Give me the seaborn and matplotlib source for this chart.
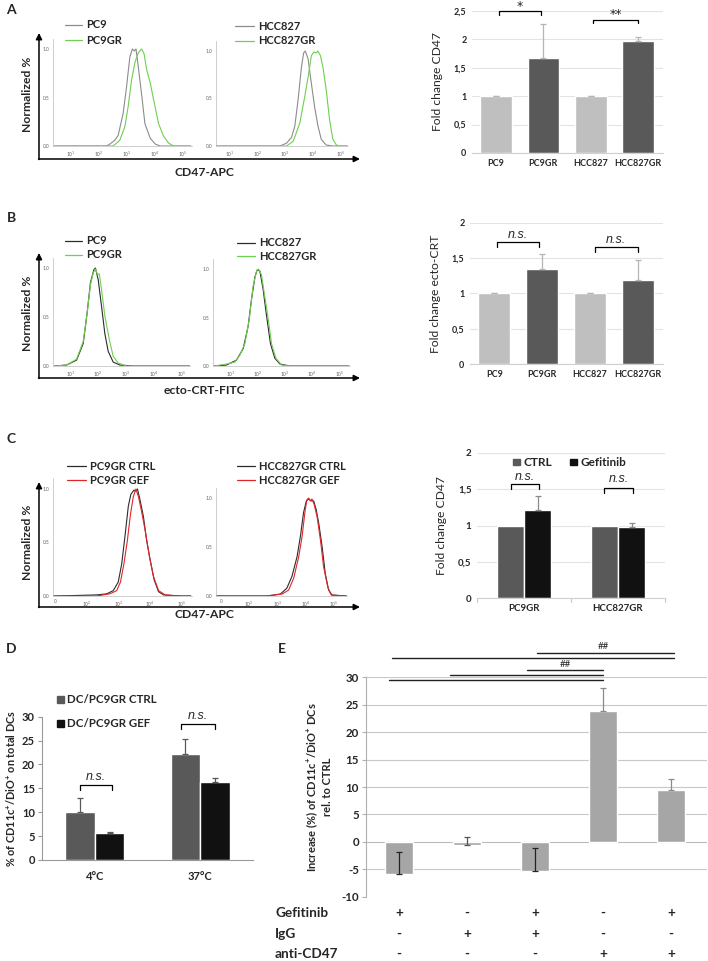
import numpy as np
import pandas as pd
import matplotlib
matplotlib.use("Agg")
import matplotlib.pyplot as plt
import seaborn as sns

sns.set_theme(style="white")
plt.rcParams['font.family'] = ['Lato', 'DejaVu Sans']
plt.rcParams['mathtext.default'] = 'regular'

W, H = 708, 961

# ---------------- DATA ----------------
# Panel A histograms (x = log10 intensity, y = normalized count)
a1_pc9_x = [0.4, 2.28, 2.40, 2.58, 2.70, 2.88, 3.00, 3.12, 3.21, 3.28, 3.34, 3.42, 3.55, 3.66, 3.85, 4.03, 4.21, 5.3]
a1_pc9_y = [0, 0, 0.02, 0.06, 0.11, 0.34, 0.61, 0.92, 1.0, 0.98, 1.0, 0.82, 0.51, 0.23, 0.08, 0.02, 0, 0]
a1_gr_x = [0.4, 2.52, 2.76, 2.94, 3.06, 3.18, 3.30, 3.42, 3.54, 3.63, 3.72, 3.85, 3.97, 4.15, 4.33, 4.51, 4.69, 5.3]
a1_gr_y = [0, 0, 0.06, 0.2, 0.41, 0.68, 0.86, 0.96, 1.0, 0.95, 0.79, 0.65, 0.48, 0.23, 0.1, 0.03, 0, 0]
a2_hcc_x = [0.5, 2.81, 3.05, 3.23, 3.35, 3.47, 3.59, 3.67, 3.73, 3.83, 3.95, 4.07, 4.19, 4.31, 4.49, 4.73, 5.25]
a2_hcc_y = [0, 0, 0.03, 0.09, 0.21, 0.49, 0.83, 0.98, 1.0, 0.92, 0.66, 0.41, 0.21, 0.07, 0.01, 0, 0]
a2_gr_x = [0.5, 3.05, 3.29, 3.53, 3.71, 3.83, 3.95, 4.04, 4.13, 4.19, 4.28, 4.37, 4.49, 4.61, 4.73, 4.86, 4.98, 5.25]
a2_gr_y = [0, 0, 0.05, 0.24, 0.52, 0.72, 0.95, 0.99, 0.98, 1.0, 0.95, 0.83, 0.59, 0.28, 0.07, 0.01, 0, 0]

# Panel B histograms
b1_pc9_x = [0.43, 0.86, 1.22, 1.46, 1.60, 1.72, 1.84, 1.90, 2.00, 2.12, 2.24, 2.36, 2.54, 2.78, 3.27, 5.3]
b1_pc9_y = [0, 0.01, 0.06, 0.23, 0.54, 0.85, 0.98, 1.0, 0.88, 0.61, 0.33, 0.15, 0.04, 0.01, 0, 0]
b1_gr_x = [0.43, 0.86, 1.22, 1.46, 1.60, 1.72, 1.82, 1.90, 1.98, 2.04, 2.12, 2.24, 2.40, 2.54, 2.72, 3.02, 5.3]
b1_gr_y = [0, 0.01, 0.07, 0.25, 0.54, 0.83, 0.95, 0.99, 0.93, 0.94, 0.78, 0.51, 0.27, 0.10, 0.03, 0, 0]
b2_hcc_x = [0.40, 0.85, 1.22, 1.47, 1.65, 1.77, 1.90, 1.98, 2.08, 2.20, 2.33, 2.47, 2.63, 2.82, 3.18, 5.35]
b2_hcc_y = [0, 0.01, 0.06, 0.18, 0.41, 0.68, 0.92, 0.99, 0.98, 0.79, 0.51, 0.23, 0.08, 0.02, 0, 0]
b2_gr_x = [0.40, 0.85, 1.16, 1.34, 1.53, 1.69, 1.83, 1.96, 2.03, 2.14, 2.26, 2.39, 2.51, 2.67, 2.88, 3.18, 5.35]
b2_gr_y = [0, 0.02, 0.04, 0.11, 0.23, 0.48, 0.82, 0.98, 1.0, 0.94, 0.72, 0.48, 0.23, 0.08, 0.01, 0, 0]

# Panel C histograms (biexponential display units: 1 = "0", 2 = 10^2, ...)
c1_ctrl_x = [0.95, 1.03, 2.31, 2.63, 2.84, 3.00, 3.11, 3.21, 3.32, 3.40, 3.50, 3.55, 3.61, 3.69, 3.80, 3.90, 4.01, 4.14, 4.28, 4.44, 4.97, 5.3]
c1_ctrl_y = [0, 0, 0.01, 0.02, 0.05, 0.13, 0.30, 0.55, 0.84, 0.95, 0.99, 0.98, 1.0, 0.90, 0.74, 0.52, 0.34, 0.15, 0.04, 0.01, 0, 0]
c1_gef_x = [0.95, 2.31, 2.73, 2.95, 3.07, 3.18, 3.29, 3.39, 3.48, 3.56, 3.64, 3.74, 3.85, 3.99, 4.12, 4.28, 4.49, 4.97, 5.3]
c1_gef_y = [0, 0, 0.02, 0.05, 0.13, 0.30, 0.52, 0.77, 0.93, 1.0, 0.93, 0.79, 0.62, 0.37, 0.18, 0.05, 0.01, 0, 0]
c2_ctrl_x = [0.85, 2.63, 3.11, 3.34, 3.52, 3.70, 3.82, 3.93, 4.03, 4.11, 4.20, 4.29, 4.38, 4.47, 4.59, 4.70, 4.82, 4.94, 5.45]
c2_ctrl_y = [0, 0, 0.02, 0.08, 0.20, 0.40, 0.61, 0.85, 0.97, 0.99, 0.97, 0.97, 0.88, 0.74, 0.50, 0.23, 0.06, 0.01, 0]
c2_gef_x = [0.85, 2.63, 3.17, 3.40, 3.58, 3.76, 3.88, 3.99, 4.05, 4.11, 4.17, 4.23, 4.31, 4.41, 4.53, 4.64, 4.79, 4.91, 5.45]
c2_gef_y = [0, 0, 0.02, 0.06, 0.18, 0.40, 0.61, 0.88, 0.98, 1.0, 0.97, 0.99, 0.93, 0.81, 0.57, 0.30, 0.09, 0.01, 0]

# Bar panels
ab_cats = ['PC9', 'PC9GR', 'HCC827', 'HCC827GR']
a_vals = [1.0, 1.68, 1.0, 1.97]
a_errs = [0.0, 0.59, 0.0, 0.08]
b_vals = [1.0, 1.35, 1.0, 1.19]
b_errs = [0.0, 0.20, 0.0, 0.28]

c_cells = ['PC9GR', 'HCC827GR']
c_ctrl = [1.0, 1.0]
c_gef = [1.21, 0.98]
c_gef_err = [0.19, 0.05]

d_temps = ['4°C', '37°C']
d_ctrl = [10.0, 22.1]
d_ctrl_err = [3.0, 3.3]
d_gef = [5.6, 16.4]
d_gef_err = [0.3, 0.8]

e_groups = ['G1', 'G2', 'G3', 'G4', 'G5']
e_vals = [-5.8, -0.5, -5.4, 23.8, 9.4]
e_errs = [3.9, 1.3, 4.3, 4.3, 2.0]
e_rows = ['Gefitinib', 'IgG', 'anti-CD47']
e_gef = ['+', '-', '+', '-', '+']
e_igg = ['-', '+', '+', '-', '-']
e_acd47 = ['-', '-', '-', '+', '+']

# ---------------- FIGURE ----------------
fig = plt.figure(figsize=(W / 100, H / 100), dpi=100)
ov = fig.add_axes([0, 0, 1, 1], zorder=-5)
ov.set_xlim(0, W)
ov.set_ylim(H, 0)
ov.axis('off')


def add_ax(l, t, r, b):
    return fig.add_axes([l / W, 1 - b / H, (r - l) / W, (b - t) / H])


GRAY = '#8c8c8c'
GREEN = '#6fcf4f'
DARK = '#2b2b2b'
RED = '#e0262a'


def histo(l, r, y0, y1, xlim, curves, ticks, ticklabels):
    top = y0 - 1.1 * (y0 - y1)
    ax = add_ax(l, top, r, y0)
    for xs, ys, col in curves:
        sns.lineplot(x=xs, y=ys, color=col, lw=0.8, ax=ax, sort=False, estimator=None)
    ax.set_xlim(*xlim)
    ax.set_ylim(0, 1.1)
    ax.set_xticks(ticks)
    ax.set_xticklabels(ticklabels)
    ax.set_yticks([0, 0.5, 1.0])
    ax.set_yticklabels(['0.0', '0.5', '1.0'])
    ax.tick_params(labelsize=3.5, colors='#666666', length=1.5, width=0.4, pad=1)
    for s in ['top', 'right']:
        ax.spines[s].set_visible(False)
    for s in ['left', 'bottom']:
        ax.spines[s].set_color('#bbbbbb')
        ax.spines[s].set_linewidth(0.5)
    ax.set_xlabel('')
    ax.set_ylabel('')
    ax.patch.set_alpha(0)
    return ax


def big_axes(ytop, ybot, xlabel, xl_y):
    ov.annotate('', xy=(39, ytop), xytext=(39, ybot + 0.5),
                arrowprops=dict(arrowstyle='-|>', lw=1.1, color='black', mutation_scale=9, shrinkA=0, shrinkB=0))
    ov.annotate('', xy=(360, ybot), xytext=(38.5, ybot),
                arrowprops=dict(arrowstyle='-|>', lw=1.1, color='black', mutation_scale=9, shrinkA=0, shrinkB=0))
    ov.text(28, (ytop + ybot) / 2 - 2, 'Normalized %', rotation=90, ha='center', va='center',
            fontsize=8.7, fontweight='bold')
    ov.text(204, xl_y, xlabel, ha='center', va='center', fontsize=8.7, fontweight='bold')


def hist_legend(x0, x1, ys, names, cols):
    for y, n, c in zip(ys, names, cols):
        ov.plot([x0, x1], [y, y], color=c, lw=0.9)
        ov.text(x1 + 4, y, n, ha='left', va='center', fontsize=8, fontweight='bold')


logt = [1, 2, 3, 4, 5]
logl = [r'$10^{%d}$' % t for t in logt]

# Panel A histograms
histo(53, 192, 146, 49, (0.36, 5.35),
      [(a1_pc9_x, a1_pc9_y, GRAY), (a1_gr_x, a1_gr_y, GREEN)], logt, logl)
histo(216, 348, 146, 51, (0.49, 5.28),
      [(a2_hcc_x, a2_hcc_y, GRAY), (a2_gr_x, a2_gr_y, GREEN)], logt, logl)
big_axes(33, 159, 'CD47-APC', 172)
hist_legend(65, 82, [25, 40], ['PC9', 'PC9GR'], [GRAY, GREEN])
hist_legend(235, 254, [26, 40.5], ['HCC827', 'HCC827GR'], [GRAY, GREEN])

# Panel B histograms
histo(53, 190, 366, 268, (0.37, 5.31),
      [(b1_pc9_x, b1_pc9_y, DARK), (b1_gr_x, b1_gr_y, GREEN)], logt, logl)
histo(213, 350, 366, 269, (0.36, 5.39),
      [(b2_hcc_x, b2_hcc_y, DARK), (b2_gr_x, b2_gr_y, GREEN)], logt, logl)
big_axes(253, 378, 'ecto-CRT-FITC', 391)
hist_legend(65, 82, [241, 255], ['PC9', 'PC9GR'], [DARK, GREEN])
hist_legend(237, 255, [243, 256], ['HCC827', 'HCC827GR'], [DARK, GREEN])

# Panel C histograms
bit = [1, 2, 3, 4, 5]
bil = ['0', r'$10^{2}$', r'$10^{3}$', r'$10^{4}$', r'$10^{5}$']
histo(53, 192, 596, 489, (0.93, 5.34),
      [(c1_ctrl_x, c1_ctrl_y, DARK), (c1_gef_x, c1_gef_y, RED)], bit, bil)
histo(216, 347, 596, 498, (0.83, 5.47),
      [(c2_ctrl_x, c2_ctrl_y, DARK), (c2_gef_x, c2_gef_y, RED)], bit, bil)
big_axes(482, 607, 'CD47-APC', 615)
hist_legend(67, 86, [466, 480], ['PC9GR CTRL', 'PC9GR GEF'], [DARK, RED])
hist_legend(237, 255, [466, 480], ['HCC827GR CTRL', 'HCC827GR GEF'], [DARK, RED])

# panel letters
for lab, x, y in [('A', 11, 10), ('B', 11, 218), ('C', 11, 439), ('D', 11, 649), ('E', 282, 649)]:
    ov.text(x, y, lab, ha='center', va='center', fontsize=10, fontweight='bold')

LIGHT = '#bfbfbf'
MID = '#595959'


def bracket(ax, x1, x2, y, h, txt, ty, italic=False, fs=9):
    ax.plot([x1, x1, x2, x2], [y - h, y, y, y - h], color='black', lw=0.9, clip_on=False)
    ax.text((x1 + x2) / 2, ty, txt, ha='center', va='center', fontsize=fs,
            fontstyle='italic' if italic else 'normal', clip_on=False,
            family=['DejaVu Sans'] if not italic else ['Liberation Sans', 'DejaVu Sans'])


def style_bar_ax(ax, ymax, step, labels, fs):
    ax.set_ylim(0, ymax)
    ax.set_yticks(np.arange(0, ymax + 1e-9, step))
    ax.set_yticklabels(labels, fontsize=fs, fontweight='bold')
    ax.yaxis.grid(True, color='#e3e3e3', lw=0.8)
    ax.set_axisbelow(True)
    for s in ['top', 'right', 'left']:
        ax.spines[s].set_visible(False)
    ax.spines['bottom'].set_color('#d0d0d0')
    ax.spines['bottom'].set_linewidth(0.8)
    ax.tick_params(axis='both', length=0, pad=4)
    ax.set_xlabel('')
    ax.patch.set_alpha(0)


# Panel A bars
axA = add_ax(472, 11, 663, 153)
sns.barplot(x=ab_cats, y=a_vals, hue=ab_cats, palette=[LIGHT, MID, LIGHT, MID], legend=False,
            width=0.67, saturation=1, errorbar=None, ax=axA)
axA.errorbar(range(4), a_vals, yerr=[[0] * 4, a_errs], fmt='none', ecolor='#b5b5b5', elinewidth=0.9,
             capsize=2.5, capthick=0.9)
axA.set_xlim(-0.51, 3.53)
style_bar_ax(axA, 2.5, 0.5, ['0', '0,5', '1', '1,5', '2', '2,5'], 6.5)
axA.set_xticks(range(4))
axA.set_xticklabels(ab_cats, fontsize=6.5, fontweight='bold')
axA.set_ylabel('Fold change CD47', fontsize=8.7, labelpad=8)
bracket(axA, 0.06, 0.94, 2.5, 0.07, '*', 2.58)
bracket(axA, 2.05, 3.0, 2.35, 0.07, '**', 2.43)

# Panel B bars
axB = add_ax(470, 222.7, 663, 364)
sns.barplot(x=ab_cats, y=b_vals, hue=ab_cats, palette=[LIGHT, MID, LIGHT, MID], legend=False,
            width=0.67, saturation=1, errorbar=None, ax=axB)
axB.errorbar(range(4), b_vals, yerr=[[0] * 4, b_errs], fmt='none', ecolor='#b5b5b5', elinewidth=0.9,
             capsize=2.5, capthick=0.9)
axB.set_xlim(-0.51, 3.53)
style_bar_ax(axB, 2.0, 0.5, ['0', '0,5', '1', '1,5', '2'], 6.5)
axB.set_xticks(range(4))
axB.set_xticklabels(ab_cats, fontsize=6.5, fontweight='bold')
axB.set_ylabel('Fold change ecto-CRT', fontsize=8.7, labelpad=8)
bracket(axB, 0.06, 0.94, 1.72, 0.07, 'n.s.', 1.83, italic=True)
bracket(axB, 2.1, 3.0, 1.65, 0.07, 'n.s.', 1.76, italic=True)

# Panel C bars
axC = add_ax(477, 453, 665, 598)
dfC = pd.DataFrame({'cell': c_cells + c_cells,
                    'cond': ['CTRL'] * len(c_cells) + ['Gefitinib'] * len(c_cells),
                    'val': c_ctrl + c_gef})
sns.barplot(data=dfC, x='cell', y='val', hue='cond', palette=[MID, '#111111'], width=0.58,
            saturation=1, errorbar=None, ax=axC, legend=False)
gef_centers = [p.get_x() + p.get_width() / 2 for p in axC.patches[len(c_cells):2 * len(c_cells)]]
axC.errorbar(gef_centers, c_gef, yerr=[[0] * 2, c_gef_err], fmt='none', ecolor='#8a8a8a',
             elinewidth=0.9, capsize=2.5, capthick=0.9)
axC.set_xlim(-0.5, 1.5)
style_bar_ax(axC, 2.0, 0.5, ['0', '0,5', '1', '1,5', '2'], 7)
axC.set_xticks(range(2))
axC.set_xticklabels(c_cells, fontsize=7, fontweight='bold')
axC.set_ylabel('Fold change CD47', fontsize=8.7, labelpad=8)
for xb in [-0.5, 0.5, 1.5]:
    axC.plot([xb, xb], [0, -0.05], color='#c8c8c8', lw=0.8, clip_on=False)
bracket(axC, -0.14, 0.16, 1.57, 0.07, 'n.s.', 1.67, italic=True)
bracket(axC, 0.85, 1.16, 1.52, 0.07, 'n.s.', 1.64, italic=True)
axC.add_patch(plt.Rectangle((-0.12, 1.83), 0.075, 0.09, color=MID, clip_on=False))
axC.text(0.0, 1.875, 'CTRL', fontsize=8.5, fontweight='bold', va='center', ha='left')
axC.add_patch(plt.Rectangle((0.49, 1.83), 0.075, 0.09, color='#111111', clip_on=False))
axC.text(0.60, 1.875, 'Gefitinib', fontsize=8.5, fontweight='bold', va='center', ha='left')

# Panel D bars
axD = add_ax(42, 716.7, 253, 860)
dfD = pd.DataFrame({'temp': d_temps + d_temps,
                    'cond': ['DC/PC9GR CTRL'] * 2 + ['DC/PC9GR GEF'] * 2,
                    'val': d_ctrl + d_gef})
sns.barplot(data=dfD, x='temp', y='val', hue='cond', palette=[MID, '#111111'], width=0.56,
            saturation=1, errorbar=None, ax=axD, legend=False)
ctrl_c = [p.get_x() + p.get_width() / 2 for p in axD.patches[0:2]]
gef_c = [p.get_x() + p.get_width() / 2 for p in axD.patches[2:4]]
axD.errorbar(ctrl_c, d_ctrl, yerr=[[0, 0], d_ctrl_err], fmt='none', ecolor=MID, elinewidth=0.9,
             capsize=2.5, capthick=0.9)
axD.errorbar(gef_c, d_gef, yerr=[[0, 0], d_gef_err], fmt='none', ecolor='#555555', elinewidth=0.9,
             capsize=2.5, capthick=0.9)
axD.set_xlim(-0.5, 1.5)
axD.set_ylim(0, 30)
axD.set_yticks(range(0, 31, 5))
axD.set_yticklabels([str(v) for v in range(0, 31, 5)], fontsize=8, fontweight='bold')
axD.set_xticks([-0.5, 0.5, 1.5], minor=True)
axD.set_xticks(range(2))
axD.set_xticklabels(d_temps, fontsize=8, fontweight='bold')
axD.tick_params(axis='x', which='major', length=0, pad=8)
axD.tick_params(axis='x', which='minor', length=3, width=0.8, color='#999999', direction='out')
axD.tick_params(axis='y', length=3, width=0.8, color='#999999', direction='out', pad=2, left=True)
for s in ['top', 'right']:
    axD.spines[s].set_visible(False)
for s in ['left', 'bottom']:
    axD.spines[s].set_color('#999999')
    axD.spines[s].set_linewidth(0.8)
axD.set_xlabel('')
axD.set_ylabel('% of CD11c$^{+}$/DiO$^{+}$ on total DCs', fontsize=7.8, fontweight='bold', labelpad=3)
axD.patch.set_alpha(0)
bracket(axD, ctrl_c[0], gef_c[0] + 0.02, 15.7, 1.05, 'n.s.', 17.3, italic=True)
bracket(axD, ctrl_c[1] - 0.04, gef_c[1], 28.5, 1.05, 'n.s.', 30.2, italic=True)
ov.add_patch(plt.Rectangle((57, 696), 6.5, 6.5, color=MID))
ov.text(67, 699.5, 'DC/PC9GR CTRL', fontsize=8.3, fontweight='bold', va='center', ha='left')
ov.add_patch(plt.Rectangle((57, 720), 6.5, 6.5, color='#111111'))
ov.text(67, 723.5, 'DC/PC9GR GEF', fontsize=8.3, fontweight='bold', va='center', ha='left')

# Panel E bars
axE = add_ax(366, 677.3, 707, 896.7)
sns.barplot(x=e_groups, y=e_vals, color='#a6a6a6', width=0.41, saturation=1, errorbar=None, ax=axE)
e_ecols = ['#222222', '#555555', '#222222', '#8a8a8a', '#8a8a8a']
for i, (v, e, c) in enumerate(zip(e_vals, e_errs, e_ecols)):
    axE.errorbar([i], [v], yerr=[[0], [e]], fmt='none', ecolor=c, elinewidth=0.9, capsize=2.5, capthick=0.9)
axE.set_xlim(-0.49, 4.53)
axE.set_ylim(-10, 30)
axE.set_yticks(range(-10, 31, 5))
axE.set_yticklabels([str(v) for v in range(-10, 31, 5)], fontsize=8.3, fontweight='bold')
axE.set_yticks([], minor=True)
axE.yaxis.grid(False)
for gy in range(-5, 31, 5):
    axE.axhline(gy, color='#c8c8c8' if gy != 0 else '#bbbbbb', lw=0.8, zorder=0)
axE.set_xticks([])
for s in ['top', 'right', 'bottom']:
    axE.spines[s].set_visible(False)
axE.spines['left'].set_color('#b0b0b0')
axE.spines['left'].set_linewidth(0.8)
axE.tick_params(axis='y', length=3, width=0.8, color='#b0b0b0', direction='out', pad=2, left=True)
axE.set_xlabel('')
axE.set_ylabel('Increase (%) of CD11c$^{+}$/DiO$^{+}$ DCs\nrel. to CTRL', fontsize=8,
               fontweight='bold', labelpad=6)
axE.patch.set_alpha(0)
# significance lines
for x1, x2, y in [(-0.1, 4.04, 33.5), (2.03, 4.04, 34.5), (1.88, 3.0, 31.3), (0.74, 3.0, 30.5), (-0.15, 3.0, 29.45)]:
    axE.plot([x1, x2], [y, y], color='#222222', lw=1.0, clip_on=False)
axE.text(3.0, 35.6, '##', ha='center', va='center', fontsize=7, clip_on=False)
axE.text(2.45, 32.4, '##', ha='center', va='center', fontsize=7, clip_on=False)
# treatment table
row_y = [913, 934, 954]
for ry, name, marks in zip(row_y, e_rows, [e_gef, e_igg, e_acd47]):
    ov.text(275, ry, name, ha='left', va='center', fontsize=9.8, fontweight='bold')
    for i, m in enumerate(marks):
        xp = 399 + 68 * i
        ov.text(xp, ry, m, ha='center', va='center', fontsize=9.8, fontweight='bold')

fig.savefig('out.png', dpi=100)
